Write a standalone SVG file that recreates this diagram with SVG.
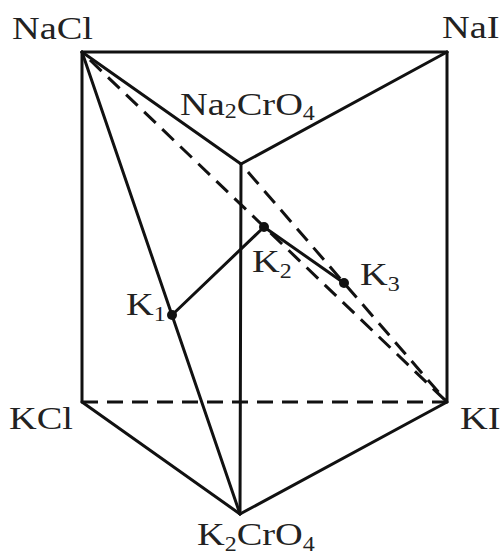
<svg xmlns="http://www.w3.org/2000/svg" width="502" height="554" viewBox="0 0 502 554">
<style>
.s{stroke:#111;stroke-width:3;fill:none;stroke-linecap:round;stroke-linejoin:round}
.d{stroke:#111;stroke-width:3;fill:none;stroke-dasharray:16 9}
.t{font-family:"Liberation Serif","Times New Roman",serif;font-size:32px;fill:#222}
.sub{font-size:20px}
.pt{fill:#111}
</style>
<rect width="502" height="554" fill="#fff"/>
<g id="connectors">
<line class="s" x1="82" y1="52" x2="447" y2="52"/>
<line class="s" x1="82" y1="52" x2="241" y2="164"/>
<line class="s" x1="241" y1="164" x2="447" y2="52"/>
<line class="s" x1="82" y1="52" x2="82" y2="402"/>
<line class="s" x1="447" y1="52" x2="447" y2="402"/>
<line class="s" x1="241" y1="164" x2="240" y2="514"/>
<line class="s" x1="82" y1="402" x2="240" y2="514"/>
<line class="s" x1="240" y1="514" x2="447" y2="402"/>
<line class="s" x1="82" y1="52" x2="240" y2="514"/>
<line class="d" x1="82" y1="402" x2="447" y2="402"/>
<line class="d" x1="90" y1="60" x2="447" y2="402"/>
<line class="d" x1="248" y1="172" x2="447" y2="402"/>
<polyline class="s" points="172,315 264,227 344,283"/>
</g>
<g id="NaCl"><text class="t" transform="translate(12,39) scale(1.2,1)">NaCl</text></g>
<g id="NaI"><text class="t" transform="translate(442,38) scale(1.2,1)">NaI</text></g>
<g id="Na2CrO4"><text class="t" transform="translate(180,115) scale(1.2,1)">Na<tspan class="sub" dy="3">2</tspan><tspan dy="-3">CrO</tspan><tspan class="sub" dy="5">4</tspan></text></g>
<g id="KCl"><text class="t" transform="translate(9,429) scale(1.2,1)">KCl</text></g>
<g id="KI"><text class="t" transform="translate(460,429) scale(1.2,1)">KI</text></g>
<g id="K2CrO4"><text class="t" transform="translate(197,545) scale(1.2,1)">K<tspan class="sub" dy="6">2</tspan><tspan dy="-6">CrO</tspan><tspan class="sub" dy="6">4</tspan></text></g>
<g id="K1"><circle class="pt" cx="172" cy="315" r="5"/><text class="t" transform="translate(126,315) scale(1.2,1)">K<tspan class="sub" dy="6">1</tspan></text></g>
<g id="K2"><circle class="pt" cx="264" cy="227" r="5"/><text class="t" transform="translate(252,272) scale(1.2,1)">K<tspan class="sub" dy="6">2</tspan></text></g>
<g id="K3"><circle class="pt" cx="344" cy="283" r="5"/><text class="t" transform="translate(360,285) scale(1.2,1)">K<tspan class="sub" dy="6">3</tspan></text></g>
</svg>
